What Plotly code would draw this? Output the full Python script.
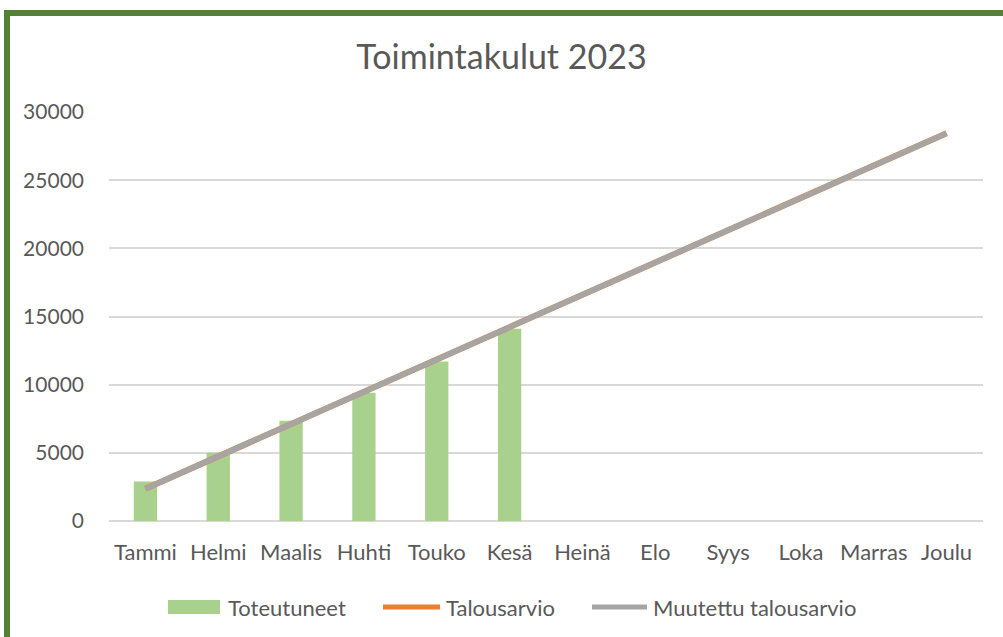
import plotly.graph_objects as go

months = ["Tammi", "Helmi", "Maalis", "Huhti", "Touko", "Kesä",
          "Heinä", "Elo", "Syys", "Loka", "Marras", "Joulu"]
toteutuneet = [2900, 5000, 7350, 9400, 11700, 14100]
talousarvio = [2370, 4740, 7110, 9480, 11850, 14220,
               16590, 18960, 21330, 23700, 26070, 28440]
muutettu = [2370, 4740, 7110, 9480, 11850, 14220,
            16590, 18960, 21330, 23700, 26070, 28440]
y_ticks = [0, 5000, 10000, 15000, 20000, 25000, 30000]
series_names = ["Toteutuneet", "Talousarvio", "Muutettu talousarvio"]
series_colors = ["#A9D18E", "#ED7D31", "#A5A5A5"]

FONT = "Lato"
TXT = "#595959"

fig = go.Figure()
fig.add_trace(go.Bar(x=months[:len(toteutuneet)], y=toteutuneet, name=series_names[0],
                     marker=dict(color=series_colors[0], line=dict(width=0)), width=0.32))
fig.add_trace(go.Scatter(x=months, y=talousarvio, name=series_names[1], mode="lines",
                         line=dict(color=series_colors[1], width=6)))
fig.add_trace(go.Scatter(x=months, y=muutettu, name=series_names[2], mode="lines",
                         line=dict(color=series_colors[2], width=5.5)))

W, H = 1003, 637
L, R, T, B = 109, 20, 112, 116
pw, ph = W - L - R, H - T - B

def px_x(p):
    return (p - L) / pw

def px_y(p):
    return (H - B - p) / ph

border = dict(color="#548235", width=6)
fig.add_shape(type="line", xref="paper", yref="paper",
              x0=px_x(7), x1=px_x(1010), y0=px_y(13), y1=px_y(13), line=border)
fig.add_shape(type="line", xref="paper", yref="paper",
              x0=px_x(7), x1=px_x(7), y0=px_y(10), y1=px_y(645), line=border)

# custom legend (wide swatches like the original)
leg_y = 607
swatches = [(168, 220), (383, 440), (592, 647)]
text_x = [226, 444, 651]
for i, (a, b) in enumerate(swatches):
    if i == 0:
        fig.add_shape(type="rect", xref="paper", yref="paper",
                      x0=px_x(a), x1=px_x(b), y0=px_y(leg_y + 7), y1=px_y(leg_y - 7),
                      fillcolor=series_colors[i], line=dict(width=0))
    else:
        fig.add_shape(type="line", xref="paper", yref="paper",
                      x0=px_x(a), x1=px_x(b), y0=px_y(leg_y), y1=px_y(leg_y),
                      line=dict(color=series_colors[i], width=5))
    fig.add_annotation(text=series_names[i], xref="paper", yref="paper",
                       x=px_x(text_x[i]), y=px_y(leg_y), xanchor="left", yanchor="middle",
                       showarrow=False, font=dict(size=22, color=TXT, family=FONT))

fig.update_layout(
    width=W, height=H,
    margin=dict(l=L, r=R, t=T, b=B),
    paper_bgcolor="white", plot_bgcolor="white",
    font=dict(family=FONT, color=TXT, size=21),
    title=dict(text="Toimintakulut 2023", x=0.5, xanchor="center",
               y=1 - 57 / H, yanchor="middle",
               font=dict(size=34, color=TXT, family=FONT)),
    xaxis=dict(type="category", categoryorder="array", categoryarray=months,
               showgrid=False, showline=False, ticks="", tickfont=dict(size=22, color=TXT),
               ticklabelstandoff=16, range=[-0.5, 11.5]),
    yaxis=dict(range=[0, 30000], tickvals=y_ticks, ticktext=[str(v) for v in y_ticks],
               showgrid=True, gridcolor="#D9D9D9", gridwidth=1.5, zeroline=True,
               zerolinecolor="#D9D9D9", zerolinewidth=1.5, showline=False, ticks="",
               ticklabelstandoff=24, tickfont=dict(size=21, color=TXT)),
    showlegend=False,
)

fig.write_html("out.html", config={"displayModeBar": False},
               post_script="document.body.style.margin='0';document.body.style.overflow='hidden';")
